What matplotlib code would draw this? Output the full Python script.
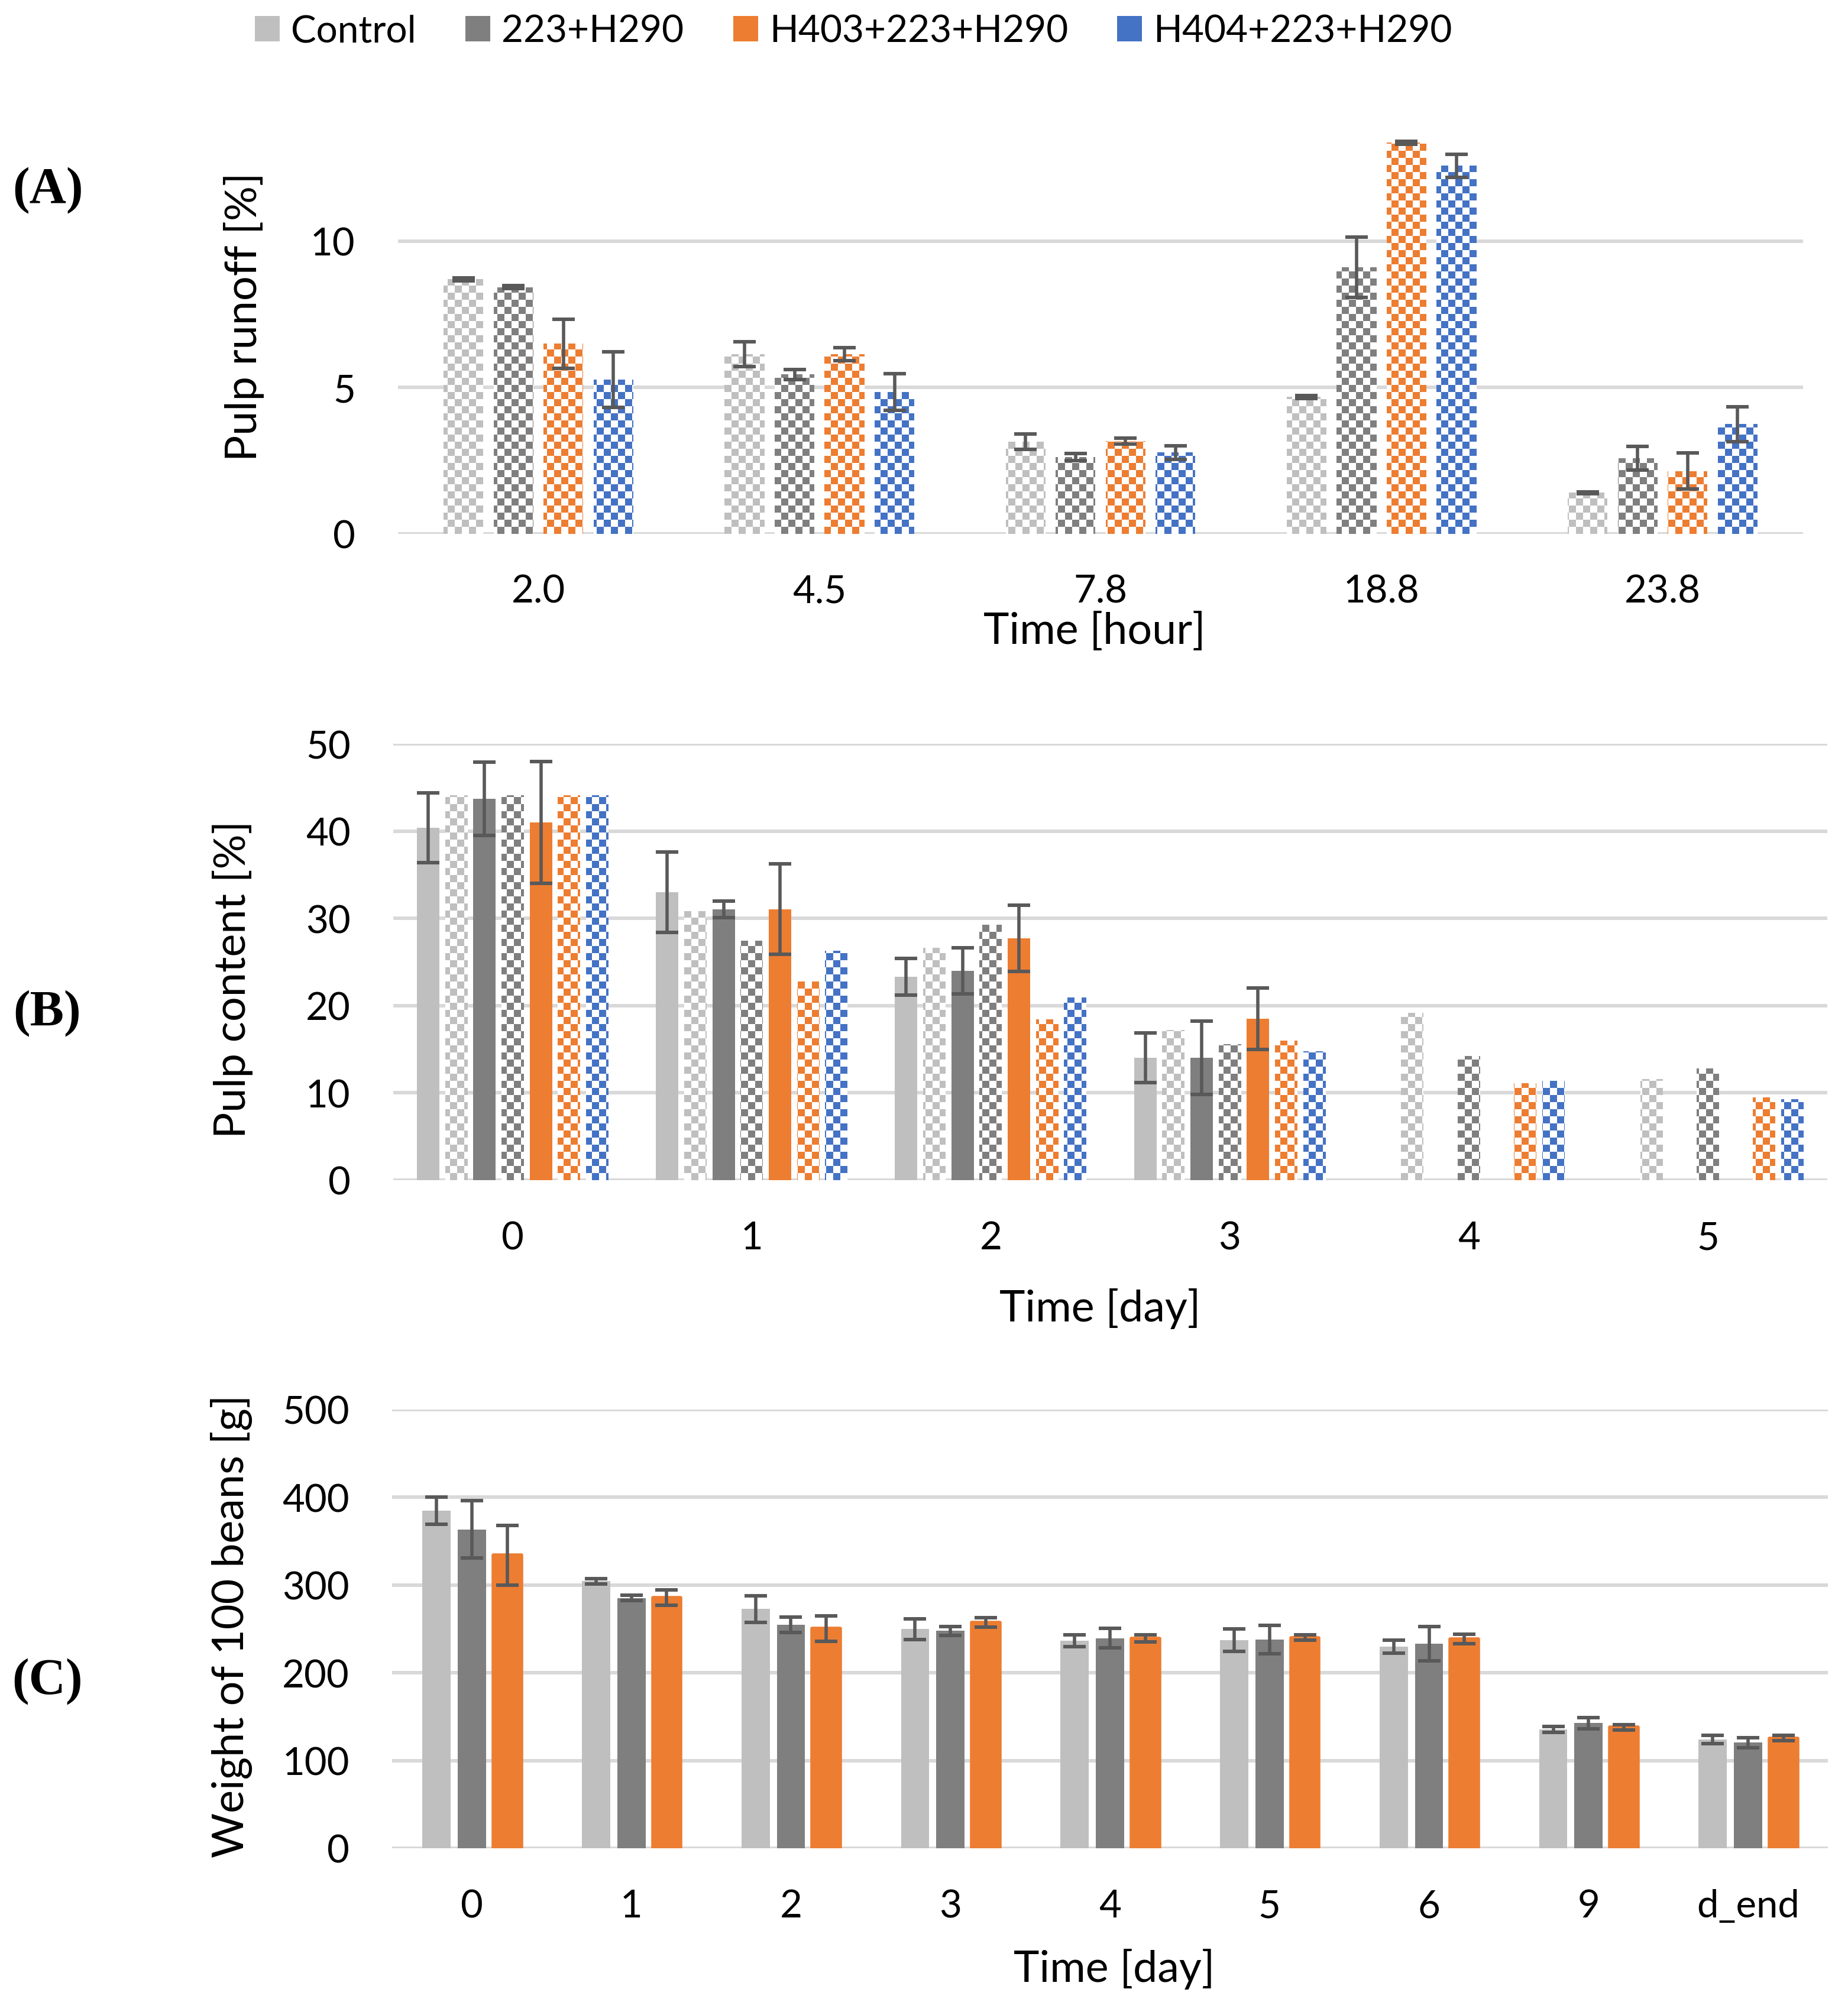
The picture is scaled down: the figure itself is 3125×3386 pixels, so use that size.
import numpy as np
import matplotlib
matplotlib.use("Agg")
import matplotlib.pyplot as plt
from matplotlib.patches import Patch, PathPatch
from matplotlib.path import Path
from matplotlib.colors import to_rgba

plt.rcParams['font.family'] = ['Lato', 'DejaVu Sans']

# ---------------- data ----------------
series_names = ["Control", "223+H290", "H403+223+H290", "H404+223+H290"]

# Panel A: pulp runoff [%]
A_cats = ["2.0", "4.5", "7.8", "18.8", "23.8"]
A_control = [8.69, 6.13, 3.14, 4.67, 1.40]
A_control_err = [0.05, 0.43, 0.26, 0.05, 0.03]
A_223 = [8.42, 5.44, 2.62, 9.11, 2.58]
A_223_err = [0.05, 0.17, 0.12, 1.03, 0.41]
A_h403 = [6.49, 6.13, 3.16, 13.36, 2.14]
A_h403_err = [0.84, 0.22, 0.10, 0.05, 0.62]
A_h404 = [5.27, 4.84, 2.77, 12.57, 3.74]
A_h404_err = [0.95, 0.63, 0.23, 0.40, 0.60]

# Panel B: pulp content [%]
nan = np.nan
B_cats = ["0", "1", "2", "3", "4", "5"]
B_control_solid = [40.4, 33.0, 23.3, 14.0, nan, nan]
B_control_solid_err = [4.0, 4.6, 2.1, 2.85, nan, nan]
B_control_check = [44.1, 30.8, 26.6, 17.2, 19.2, 11.6]
B_223_solid = [43.7, 31.05, 24.0, 14.0, nan, nan]
B_223_solid_err = [4.2, 0.95, 2.65, 4.2, nan, nan]
B_223_check = [44.1, 27.45, 29.3, 15.6, 14.2, 12.8]
B_h403_solid = [41.0, 31.05, 27.7, 18.5, nan, nan]
B_h403_solid_err = [7.0, 5.2, 3.8, 3.55, nan, nan]
B_h403_check = [44.1, 22.75, 18.4, 16.0, 11.1, 9.5]
B_h404_check = [44.1, 26.3, 20.95, 14.8, 11.35, 9.3]

# Panel C: weight of 100 beans [g]
C_cats = ["0", "1", "2", "3", "4", "5", "6", "9", "d_end"]
C_control = [384.8, 304.4, 272.7, 249.8, 236.4, 237.1, 229.7, 135.3, 124.0]
C_control_err = [15.5, 3, 15.3, 11.6, 6.7, 12.7, 7.2, 3.5, 4.6]
C_223 = [363.3, 285.1, 254.8, 247.7, 239.3, 237.8, 233.3, 142.7, 120.5]
C_223_err = [32.7, 3, 8.8, 5, 11.1, 16, 19.4, 6.5, 5.8]
C_h403 = [334.0, 285.8, 250.5, 257.6, 239.3, 240.0, 238.5, 138.1, 125.4]
C_h403_err = [34, 9, 14.4, 5.3, 4, 3, 5.6, 3, 3]

# ---------------- style ----------------
COL_CTRL, COL_223, COL_403, COL_404 = '#BFBFBF', '#7F7F7F', '#ED7D31', '#4472C4'
COL_ERR, COL_GRID = '#595959', '#D9D9D9'
TICK_FS = 47
TITLE_FS = 53

DPI = 100
W, H = 3125, 3387
fig = plt.figure(figsize=(W / DPI, H / DPI), dpi=DPI)


def px_axes(l, r, t, b):
    return fig.add_axes([l / W, 1 - b / H, (r - l) / W, (b - t) / H])


def checker_fill(ax, bars, color, cell=12):
    paths = [b.get_path().transformed(b.get_patch_transform())
             for b in bars if np.isfinite(b.get_height()) and b.get_height() > 0]
    if not paths:
        return
    clip = PathPatch(Path.make_compound_path(*paths), transform=ax.transData,
                     facecolor='none', edgecolor='none')
    ax.add_patch(clip)
    bb = ax.get_position()
    wpx, hpx = bb.width * W, bb.height * H
    nx, ny = int(np.ceil(wpx / cell)), int(np.ceil(hpx / cell))
    jj, ii = np.meshgrid(np.arange(nx), np.arange(ny))
    img = np.zeros((ny, nx, 4))
    img[(ii + jj) % 2 == 0] = to_rgba(color)
    im = ax.imshow(img, extent=(0, nx * cell / wpx, 0, ny * cell / hpx),
                   transform=ax.transAxes, origin='lower', interpolation='nearest',
                   aspect='auto', zorder=3)
    im.set_clip_path(clip)


def errbars(ax, x, y, e):
    ax.errorbar(x, y, yerr=e, fmt='none', ecolor=COL_ERR, elinewidth=4,
                capsize=13.5, capthick=4.3, zorder=6)


def style(ax, cats, ylim, yticks):
    n = len(cats)
    ax.set_xlim(-0.5, n - 0.5)
    ax.set_ylim(*ylim)
    ax.set_yticks(yticks)
    ax.set_xticks(np.arange(n))
    ax.set_xticklabels(cats)
    for s in ax.spines.values():
        s.set_visible(False)
    ax.grid(axis='y', color=COL_GRID, linewidth=4.3)
    ax.grid(axis='x', visible=False)
    ax.set_axisbelow(True)
    ax.tick_params(axis='both', length=0, labelsize=TICK_FS, colors='black')
    ax.tick_params(axis='y', pad=52)
    ax.tick_params(axis='x', pad=49)


# ---------------- Panel A ----------------
axA = px_axes(673, 3049, 210.6, 903.6)
xA = np.arange(len(A_cats))
A_series = [(A_control, A_control_err, COL_CTRL), (A_223, A_223_err, COL_223),
            (A_h403, A_h403_err, COL_403), (A_h404, A_h404_err, COL_404)]
for k, (v, e, col) in enumerate(A_series):
    x = xA + (k - 1.5) * 0.178
    bars = axA.bar(x, v, 0.1414, color='white', linewidth=0, zorder=2)
    checker_fill(axA, bars, col)
    errbars(axA, x, v, e)
style(axA, A_cats, (0, 14), [0, 5, 10])

# ---------------- Panel B ----------------
axB = px_axes(665, 3090, 1259, 1997)
xB = np.arange(len(B_cats))
B_slots = [(B_control_solid, B_control_solid_err, COL_CTRL, False),
           (B_control_check, None, COL_CTRL, True),
           (B_223_solid, B_223_solid_err, COL_223, False),
           (B_223_check, None, COL_223, True),
           (B_h403_solid, B_h403_solid_err, COL_403, False),
           (B_h403_check, None, COL_403, True),
           (B_h404_check, None, COL_404, True)]
for k, (v, e, col, chk) in enumerate(B_slots):
    x = xB + (k - 3) * 0.118
    v = np.array(v, dtype=float)
    m = np.isfinite(v)
    if chk:
        bars = axB.bar(x[m], v[m], 0.094, color='white', linewidth=0, zorder=2)
        checker_fill(axB, bars, col)
    else:
        axB.bar(x[m], v[m], 0.094, color=col, linewidth=0, zorder=2)
    if e is not None:
        e = np.array(e, dtype=float)
        errbars(axB, x[m], v[m], e[m])
style(axB, B_cats, (0, 50), [0, 10, 20, 30, 40, 50])

# ---------------- Panel C ----------------
axC = px_axes(663, 3091, 2385, 3127)
xC = np.arange(len(C_cats))
C_series = [(C_control, C_control_err, COL_CTRL), (C_223, C_223_err, COL_223),
            (C_h403, C_h403_err, COL_403)]
for k, (v, e, col) in enumerate(C_series):
    x = xC + (k - 1) * 0.2216
    if col == COL_403:
        axC.bar(x, v, 0.177, color=col, edgecolor=col, linewidth=4,
                joinstyle='round', zorder=2)
    else:
        axC.bar(x, v, 0.177, color=col, linewidth=0, zorder=2)
    errbars(axC, x, v, e)
style(axC, C_cats, (0, 500), [0, 100, 200, 300, 400, 500])

# ---------------- texts ----------------
def ftext(x, y, s, **kw):
    fig.text(x / W, 1 - y / H, s, ha='center', va='center', **kw)

ftext(412, 536, 'Pulp runoff [%]', rotation=90, fontsize=TITLE_FS)
ftext(393, 1656, 'Pulp content [%]', rotation=90, fontsize=TITLE_FS)
ftext(391, 2750, 'Weight of 100 beans [g]', rotation=90, fontsize=TITLE_FS)
ftext(1851, 1068, 'Time [hour]', fontsize=TITLE_FS)
ftext(1860, 2213, 'Time [day]', fontsize=TITLE_FS)
ftext(1884, 3331, 'Time [day]', fontsize=TITLE_FS)

for lab, (px, py) in zip(['(A)', '(B)', '(C)'], [(81, 322), (80, 1714), (80, 2844)]):
    ftext(px, py, lab, fontsize=62, family='Liberation Serif', weight='bold')

handles = [Patch(facecolor=c, edgecolor='none') for c in (COL_CTRL, COL_223, COL_403, COL_404)]
fig.legend(handles, series_names, loc='center left', bbox_to_anchor=(431 / W, 1 - 54 / H),
           ncol=4, frameon=False, fontsize=46, handlelength=0.66, handleheight=0.66,
           handletextpad=0.3, columnspacing=1.3, borderpad=0, borderaxespad=0)

fig.savefig('out.png', dpi=DPI)
